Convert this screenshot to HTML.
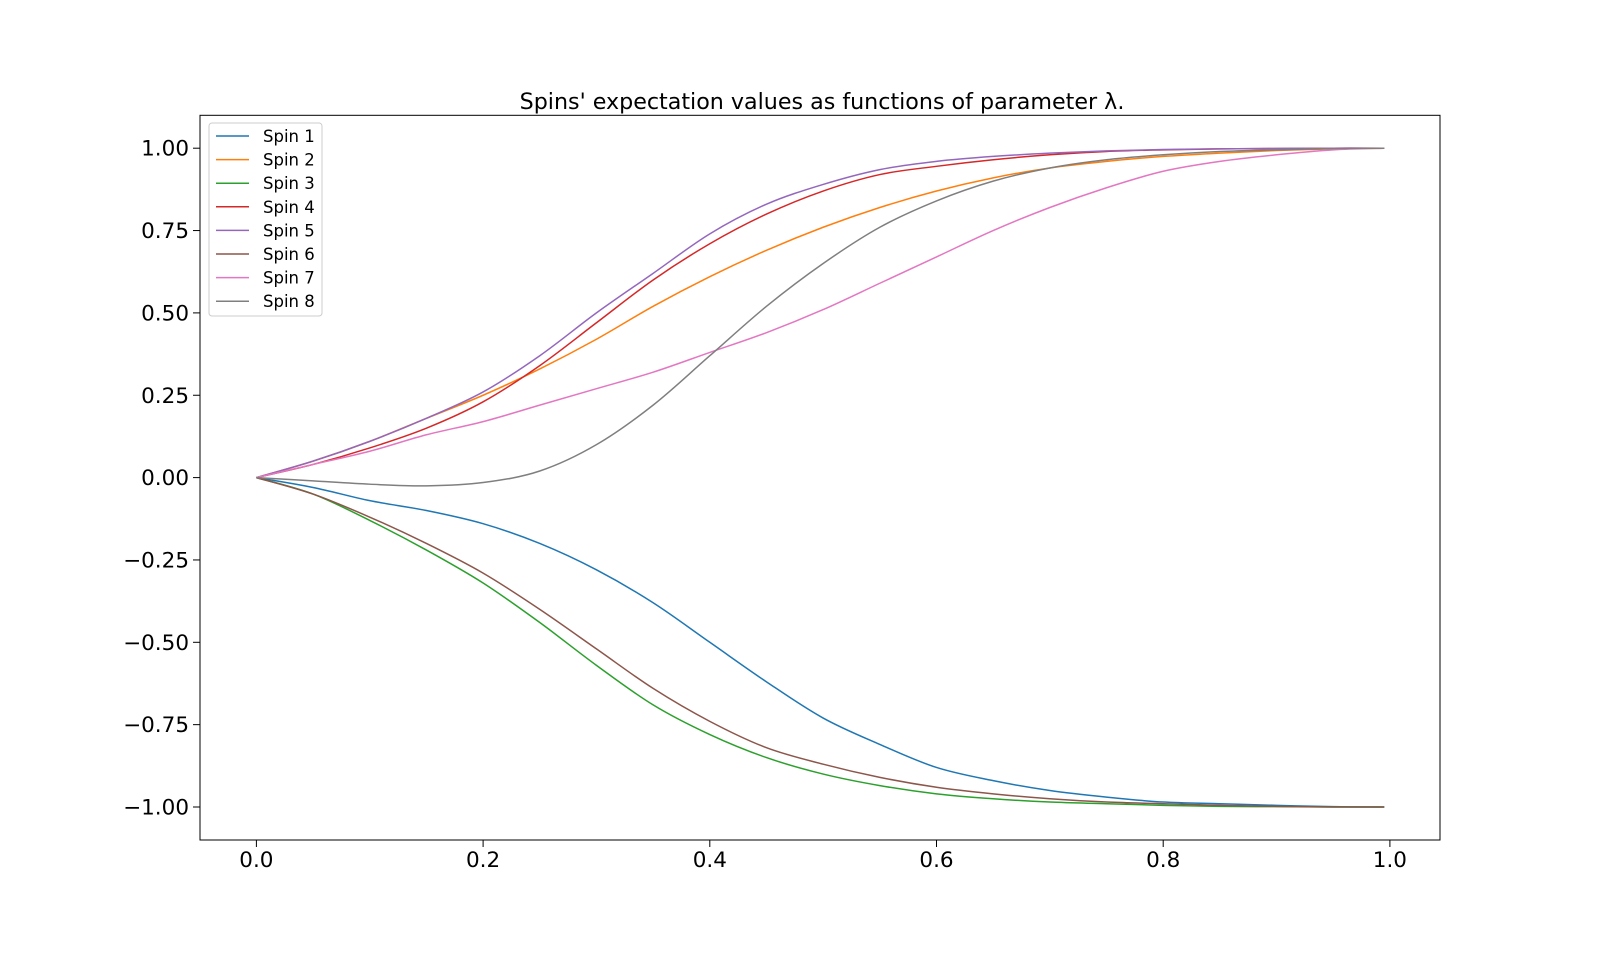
<!DOCTYPE html>
<html><head><meta charset="utf-8"><style>
body{margin:0;background:#fff}
svg text{font-family:"DejaVu Sans","Liberation Sans",sans-serif}
</style></head><body>
<svg width="1600" height="960" id="c">
<rect width="1600" height="960" fill="#fff"/>
<text x="822" y="109" text-anchor="middle" font-size="22.2">Spins' expectation values as functions of parameter λ.</text>
<g id="plot"></g>
<rect x="200" y="115.3" width="1240" height="724.7" fill="none" stroke="#000" stroke-width="1"/>
</svg>
<script>
const xs=[0,.05,.1,.15,.2,.25,.3,.35,.4,.45,.5,.55,.6,.65,.7,.75,.8,.85,.9,.95,.995];
const spinNames=["Spin 1","Spin 2","Spin 3","Spin 4","Spin 5","Spin 6","Spin 7","Spin 8"];
const colors=["#1f77b4","#ff7f0e","#2ca02c","#d62728","#9467bd","#8c564b","#e377c2","#7f7f7f"];
const spin1=[0,-.03,-.07,-.10,-.14,-.20,-.28,-.38,-.50,-.62,-.73,-.81,-.88,-.92,-.95,-.97,-.985,-.99,-.995,-.999,-1];
const spin2=[0,.05,.11,.18,.25,.33,.42,.52,.61,.69,.76,.82,.87,.91,.94,.96,.975,.985,.993,.998,1];
const spin3=[0,-.05,-.13,-.22,-.32,-.44,-.57,-.69,-.78,-.85,-.90,-.935,-.96,-.975,-.985,-.99,-.995,-.998,-.999,-1,-1];
const spin4=[0,.04,.09,.15,.23,.34,.47,.60,.71,.80,.87,.92,.945,.965,.98,.99,.995,.998,.999,1,1];
const spin5=[0,.05,.11,.18,.26,.37,.50,.62,.74,.83,.89,.935,.96,.975,.985,.992,.996,.998,.999,1,1];
const spin6=[0,-.05,-.12,-.20,-.29,-.40,-.52,-.64,-.74,-.82,-.87,-.91,-.94,-.96,-.975,-.985,-.99,-.995,-.998,-1,-1];
const spin7=[0,.04,.08,.13,.17,.22,.27,.32,.38,.44,.51,.59,.67,.75,.82,.88,.93,.96,.98,.995,1];
const spin8=[0,-.01,-.02,-.025,-.015,.02,.10,.22,.37,.52,.65,.76,.84,.90,.94,.965,.98,.99,.995,.999,1];
const series=[spin1,spin2,spin3,spin4,spin5,spin6,spin7,spin8];
const xTicks=[0,.2,.4,.6,.8,1];
const xTickLabels=["0.0","0.2","0.4","0.6","0.8","1.0"];
const yTicks=[-1,-.75,-.5,-.25,0,.25,.5,.75,1];
const yTickLabels=["−1.00","−0.75","−0.50","−0.25","0.00","0.25","0.50","0.75","1.00"];
const X=v=>256.4+v*1133.5, Y=v=>477.6-v*329.4;
const NS="http://www.w3.org/2000/svg", g=document.getElementById('plot');
function mk(t,a){const e=document.createElementNS(NS,t);for(const k in a)e.setAttribute(k,a[k]);g.appendChild(e);return e;}
xTicks.forEach((v,i)=>{
 const t=mk('line',{x1:X(v),x2:X(v),y1:840,y2:847,stroke:'#000'});
 
 
 const l=mk('text',{x:X(v),y:867,'text-anchor':'middle','font-size':21.5});l.textContent=xTickLabels[i];
 
 
});
yTicks.forEach((v,i)=>{
 const t=mk('line',{x1:193,x2:200,y1:Y(v),y2:Y(v),stroke:'#000'});
 
 
 const l=mk('text',{x:189,y:Y(v)+7.5,'text-anchor':'end','font-size':21.5});l.textContent=yTickLabels[i];
 
 
});
function path(ys){
 const p=xs.map((x,i)=>[X(x),Y(ys[i])]);let d=`M${p[0][0]},${p[0][1]}`;
 for(let i=0;i<p.length-1;i++){const p0=p[Math.max(0,i-1)],p1=p[i],p2=p[i+1],p3=p[Math.min(p.length-1,i+2)];
  d+=` C${p1[0]+(p2[0]-p0[0])/6},${p1[1]+(p2[1]-p0[1])/6} ${p2[0]-(p3[0]-p1[0])/6},${p2[1]-(p3[1]-p1[1])/6} ${p2[0]},${p2[1]}`;}
 return d;
}
series.forEach((s,i)=>{
 const e=mk('path',{d:path(s),fill:'none',stroke:colors[i],'stroke-width':1.5});
 
 
});
const lb=mk('rect',{x:209,y:123,width:113,height:193,rx:3,fill:'#fff','fill-opacity':.8,stroke:'#ccc'});


spinNames.forEach((n,i)=>{
 const y=136+i*23.6;
 const l=mk('line',{x1:216,x2:249,y1:y,y2:y,stroke:colors[i],'stroke-width':1.5});
 
 
 const t=mk('text',{x:263,y:y+6,'font-size':16.5});t.textContent=n;
 
 
});
</script>
</body></html>
